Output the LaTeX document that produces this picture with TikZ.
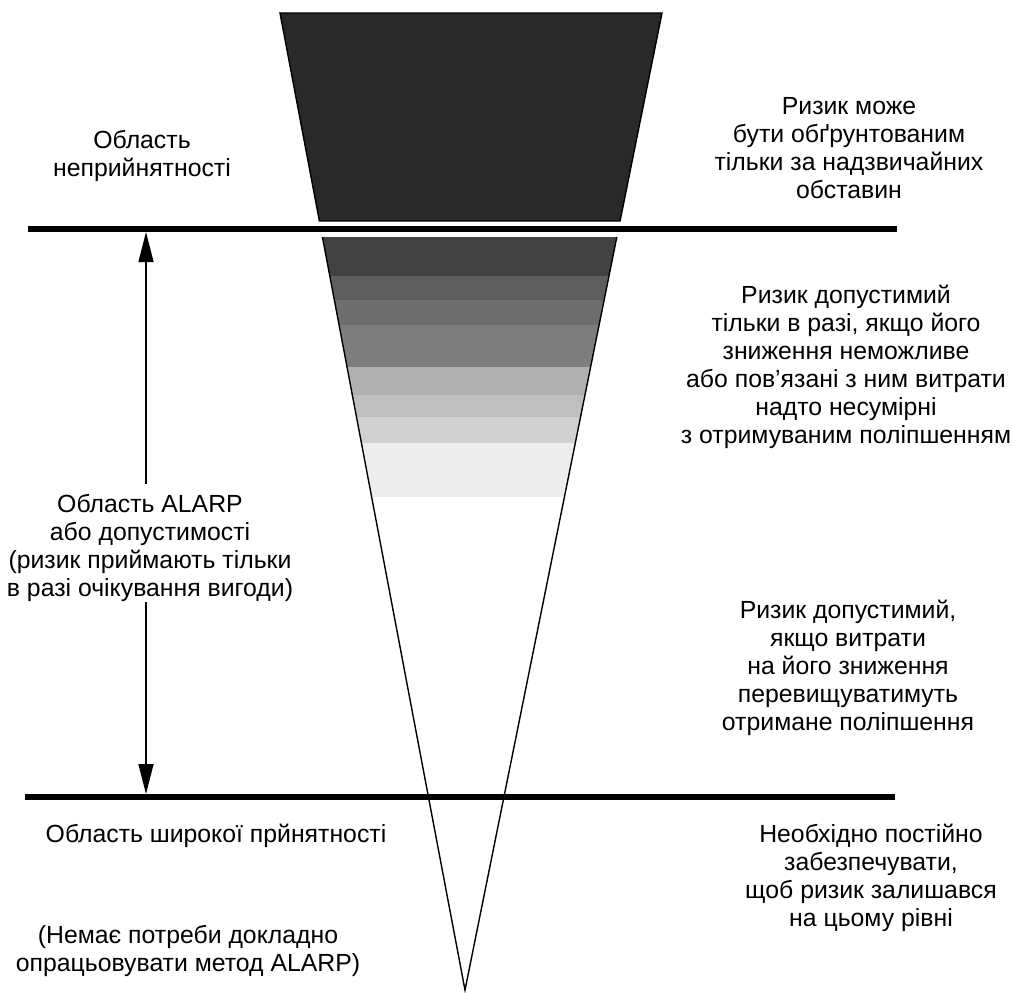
\documentclass[tikz,border=0pt]{standalone}
\usepackage{fontspec}
\setmainfont{Liberation Sans}
\usetikzlibrary{arrows.meta, calc}
\tikzset{
>={Triangle[length=15pt,width=7.5pt]}, % long filled arrow heads
every node/.style={inner sep=0pt, align=center, font=\fontsize{12.4}{14}\selectfont},
level/.style={line width=3pt}, % thick boundary between two regions
side/.style={line width=0.7pt}, % outline of the cone
}

\begin{document}
\begin{tikzpicture}[x=0.5pt,y=-0.5pt]
  \useasboundingbox (0,0) rectangle (1012,992);

  % the cone, cut in two by the upper boundary
  \coordinate (tl) at (280,13);
  \coordinate (tr) at (662,13);
  \coordinate (apex) at (465,990);
  \coordinate (bl) at ($(tl)!0.2129!(apex)$);
  \coordinate (br) at ($(tr)!0.2129!(apex)$);
  \coordinate (ul) at ($(tl)!0.2293!(apex)$);
  \coordinate (ur) at ($(tr)!0.2293!(apex)$);

  \filldraw[side, fill=black!84] (tl) -- (tr) -- (br) -- (bl) -- cycle;
  \begin{scope}
    \clip (ul) -- (ur) -- (apex) -- cycle;
    \foreach \ya/\yb/\g in {237/276/74, 276/300/63, 300/325/57, 325/367/51,
                            367/395/31, 395/417/25, 417/443/18, 443/497/7}
      \fill[black!\g] (300,\ya) rectangle (640,\yb);
  \end{scope}
  \draw[side] (ul) -- (apex) -- (ur);

  % boundaries
  \coordinate (hi) at (146,229);
  \coordinate (lo) at (146,797);
  \draw[level] (28,229) -- (897,229);
  \draw[level] (25,797) -- (895,797);

  % left column
  \node (unacc) at (142,156) {Область\\неприйнятності};
  \node (alarp) at (150,548) {Область ALARP\\або допустимості\\(ризик приймають тільки\\в разі очікування вигоди)};
  \node (broad) at (216,836) {Область широкої прйнятності};
  \node (nomore) at (188,951) {(Немає потреби докладно\\опрацьовувати метод ALARP)};

  % right column
  \node (rtop) at (849,148) {Ризик може\\бути обґрунтованим\\тільки за надзвичайних\\обставин};
  \node (rmid) at (846,367) {Ризик допустимий\\тільки в разі, якщо його\\зниження неможливе\\або пов’язані з ним витрати\\надто несумірні\\з отримуваним поліпшенням};
  \node (rlow) at (848,668) {Ризик допустимий,\\якщо витрати\\на його зниження\\перевищуватимуть\\отримане поліпшення};
  \node (rbot) at (871,878) {Необхідно постійно\\забезпечувати,\\щоб ризик залишався\\на цьому рівні};

  \draw[side, ->, shorten <=5pt, shorten >=1.5pt] (alarp.north -| hi) -- (hi);
  \draw[side, ->, shorten >=1.5pt] (alarp.south -| lo) -- (lo);
\end{tikzpicture}
\end{document}
